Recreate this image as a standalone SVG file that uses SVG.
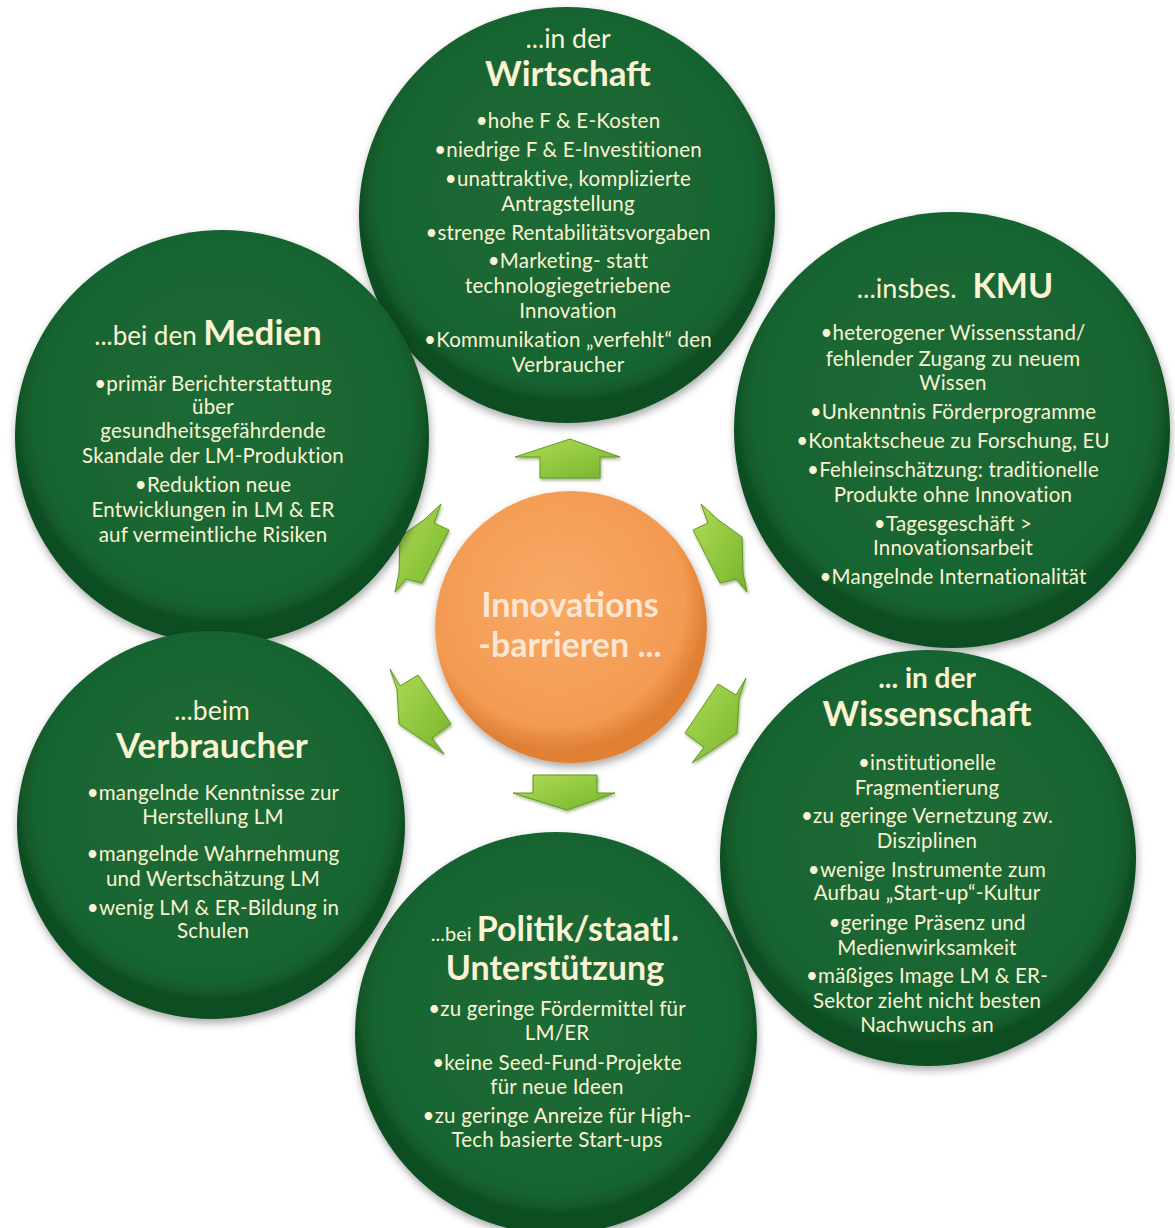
<svg xmlns="http://www.w3.org/2000/svg" width="1175" height="1228" viewBox="0 0 1175 1228">
<defs>
<radialGradient id="gg" cx="50%" cy="45%" r="50%">
<stop offset="0" stop-color="#1d6b37"/>
<stop offset="0.9" stop-color="#186432"/>
<stop offset="0.97" stop-color="#125829"/>
<stop offset="1" stop-color="#0d4d22"/>
</radialGradient>
<radialGradient id="og" cx="45%" cy="40%" r="55%">
<stop offset="0" stop-color="#f8aa66"/>
<stop offset="0.85" stop-color="#f39a52"/>
<stop offset="1" stop-color="#e08035"/>
</radialGradient>
<linearGradient id="ag" x1="0" y1="0" x2="1" y2="1">
<stop offset="0" stop-color="#b2dc55"/>
<stop offset="1" stop-color="#74b52c"/>
</linearGradient>
<filter id="sh" x="-10%" y="-10%" width="120%" height="125%">
<feDropShadow dx="1" dy="4" stdDeviation="4" flood-color="#000" flood-opacity="0.35"/>
</filter>
<filter id="ash" x="-20%" y="-20%" width="140%" height="140%">
<feDropShadow dx="1" dy="2" stdDeviation="1.5" flood-color="#3a5a10" flood-opacity="0.45"/>
</filter>
</defs>
<style>
.c{fill:url(#gg);filter:url(#sh)}
.t{font-family:Lato,"Open Sans","Liberation Sans",sans-serif;fill:#fbf3d2;text-anchor:middle}
.b{font-size:20.5px;letter-spacing:0.2px}
.p{font-size:26.5px}
.h{font-size:35px;font-weight:bold}
.a{fill:url(#ag);stroke:#5f9a22;stroke-width:1;filter:url(#ash)}
</style>
<rect width="1175" height="1228" fill="#ffffff"/>

<g id="connectors">
<polygon class="a" points="570,439 620,457 600,457 600,478 540,478 540,457 515,457"/>
<polygon class="a" points="533,775 597,775 597,793 615,793 567,810 513,793 533,793"/>
<polygon class="a" points="693,530 708,523 701,504 717,519 742,537 743,573 747,592 736,579 720,583"/>
<polygon class="a" points="718,684 736,695 746,678 739,698 737,733 712,750 692,763 704,747 685,733"/>
<polygon class="a" points="449,530 434,523 441,504 425,519 400,537 399,573 395,592 406,579 422,583"/>
<polygon class="a" points="418,675 400,686 390,669 397,689 399,724 424,741 444,754 432,738 451,724"/>
</g>

<g id="center">
<circle cx="571" cy="627" r="136" fill="url(#og)" filter="url(#sh)"/>
<text class="t" style="fill:#fde6d2;font-size:34px;font-weight:bold" x="570" y="617">Innovations</text>
<text class="t" style="fill:#fde6d2;font-size:34px;font-weight:bold" x="570" y="657">-barrieren ...</text>
</g>

<g id="wirtschaft">
<circle class="c" cx="567" cy="215" r="208"/>
<text class="t p" x="568" y="48">...in der</text>
<text class="t h" x="568" y="86">Wirtschaft</text>
<text class="t b" x="568" y="128">•hohe F &amp; E-Kosten</text>
<text class="t b" x="568" y="157">•niedrige F &amp; E-Investitionen</text>
<text class="t b" x="568" y="186">•unattraktive, komplizierte</text>
<text class="t b" x="568" y="211">Antragstellung</text>
<text class="t b" x="568" y="240">•strenge Rentabilitätsvorgaben</text>
<text class="t b" x="568" y="268">•Marketing- statt</text>
<text class="t b" x="568" y="293">technologiegetriebene</text>
<text class="t b" x="568" y="318">Innovation</text>
<text class="t b" x="568" y="347">•Kommunikation „verfehlt“ den</text>
<text class="t b" x="568" y="372">Verbraucher</text>
</g>

<g id="kmu">
<circle class="c" cx="952" cy="430" r="218"/>
<text class="t" x="955" y="298"><tspan style="font-size:27px">...insbes.</tspan><tspan dx="16" style="font-size:34px;font-weight:bold">KMU</tspan></text>
<text class="t b" x="953" y="340">•heterogener Wissensstand/</text>
<text class="t b" x="953" y="366">fehlender Zugang zu neuem</text>
<text class="t b" x="953" y="390">Wissen</text>
<text class="t b" x="953" y="419">•Unkenntnis Förderprogramme</text>
<text class="t b" x="953" y="448">•Kontaktscheue zu Forschung, EU</text>
<text class="t b" x="953" y="477">•Fehleinschätzung: traditionelle</text>
<text class="t b" x="953" y="502">Produkte ohne Innovation</text>
<text class="t b" x="953" y="531">•Tagesgeschäft &gt;</text>
<text class="t b" x="953" y="555">Innovationsarbeit</text>
<text class="t b" x="953" y="584">•Mangelnde Internationalität</text>
</g>

<g id="medien">
<circle class="c" cx="222" cy="437" r="207"/>
<text class="t" x="208" y="345"><tspan style="font-size:26px">...bei den </tspan><tspan style="font-size:35px;font-weight:bold">Medien</tspan></text>
<text class="t b" x="213" y="391">•primär Berichterstattung</text>
<text class="t b" x="213" y="414">über</text>
<text class="t b" x="213" y="438">gesundheitsgefährdende</text>
<text class="t b" x="213" y="463">Skandale der LM-Produktion</text>
<text class="t b" x="213" y="492">•Reduktion neue</text>
<text class="t b" x="213" y="517">Entwicklungen in LM &amp; ER</text>
<text class="t b" x="213" y="542">auf vermeintliche Risiken</text>
</g>

<g id="wissenschaft">
<circle class="c" cx="928" cy="858" r="208"/>
<text class="t" style="font-size:28px;font-weight:bold" x="927" y="688">... in der</text>
<text class="t h" x="927" y="726">Wissenschaft</text>
<text class="t b" x="927" y="770">•institutionelle</text>
<text class="t b" x="927" y="795">Fragmentierung</text>
<text class="t b" x="927" y="823">•zu geringe Vernetzung zw.</text>
<text class="t b" x="927" y="848">Disziplinen</text>
<text class="t b" x="927" y="877">•wenige Instrumente zum</text>
<text class="t b" x="927" y="900">Aufbau „Start-up“-Kultur</text>
<text class="t b" x="927" y="930">•geringe Präsenz und</text>
<text class="t b" x="927" y="955">Medienwirksamkeit</text>
<text class="t b" x="927" y="983">•mäßiges Image LM &amp; ER-</text>
<text class="t b" x="927" y="1008">Sektor zieht nicht besten</text>
<text class="t b" x="927" y="1032">Nachwuchs an</text>
</g>

<g id="verbraucher">
<circle class="c" cx="211" cy="825" r="194"/>
<text class="t p" x="212" y="720">...beim</text>
<text class="t h" x="212" y="758">Verbraucher</text>
<text class="t b" x="213" y="800">•mangelnde Kenntnisse zur</text>
<text class="t b" x="213" y="824">Herstellung LM</text>
<text class="t b" x="213" y="861">•mangelnde Wahrnehmung</text>
<text class="t b" x="213" y="886">und Wertschätzung LM</text>
<text class="t b" x="213" y="915">•wenig LM &amp; ER-Bildung in</text>
<text class="t b" x="213" y="938">Schulen</text>
</g>

<g id="politik">
<circle class="c" cx="556" cy="1033" r="201"/>
<text class="t" x="555" y="941"><tspan style="font-size:20px">...bei </tspan><tspan style="font-size:34px;font-weight:bold">Politik/staatl.</tspan></text>
<text class="t" style="font-size:34px;font-weight:bold" x="555" y="980">Unterstützung</text>
<text class="t b" x="557" y="1016">•zu geringe Fördermittel für</text>
<text class="t b" x="557" y="1040">LM/ER</text>
<text class="t b" x="557" y="1070">•keine Seed-Fund-Projekte</text>
<text class="t b" x="557" y="1094">für neue Ideen</text>
<text class="t b" x="557" y="1123">•zu geringe Anreize für High-</text>
<text class="t b" x="557" y="1147">Tech basierte Start-ups</text>
</g>
</svg>
